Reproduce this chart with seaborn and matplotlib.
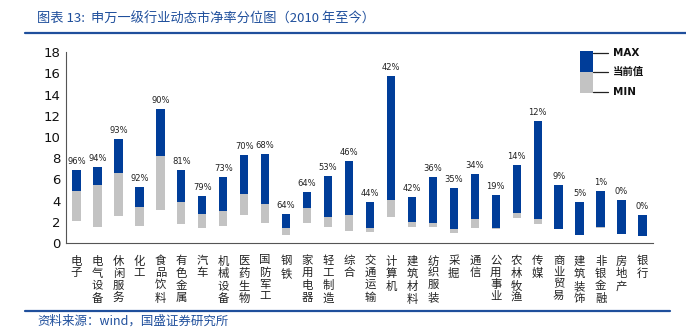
import matplotlib
matplotlib.use("Agg")
import matplotlib.pyplot as plt
import seaborn as sns
import pandas as pd
import numpy as np
from matplotlib.patches import Rectangle
from matplotlib.lines import Line2D

industries = ["电子", "电气设备", "休闲服务", "化工", "食品饮料", "有色金属", "汽车",
              "机械设备", "医药生物", "国防军工", "钢铁", "家用电器", "轻工制造", "综合",
              "交通运输", "计算机", "建筑材料", "纺织服装", "采掘", "通信", "公用事业",
              "农林牧渔", "传媒", "商业贸易", "建筑装饰", "非银金融", "房地产", "银行"]
pb_max = [6.91, 7.19, 9.80, 5.25, 12.63, 6.91, 4.43, 6.19, 8.29, 8.39, 2.73, 4.78, 6.31, 7.73,
          3.90, 15.77, 4.34, 6.19, 5.15, 6.53, 4.52, 7.35, 11.47, 5.44, 3.83, 4.87, 4.05, 2.60]
pb_cur = [4.93, 5.47, 6.63, 3.42, 8.23, 3.90, 2.70, 3.02, 4.65, 3.64, 1.38, 3.27, 2.45, 2.67,
          1.45, 4.05, 2.01, 1.89, 1.35, 2.29, 1.41, 2.83, 2.23, 1.36, 0.80, 1.48, 0.88, 0.62]
pb_min = [2.04, 1.48, 2.51, 1.57, 3.08, 1.79, 1.38, 1.63, 2.64, 1.92, 0.72, 1.85, 1.48, 1.16,
          1.07, 2.42, 1.54, 1.54, 0.94, 1.38, 1.32, 2.32, 1.76, 1.30, 0.75, 1.45, 0.88, 0.62]
pct_labels = ["96%", "94%", "93%", "92%", "90%", "81%", "79%", "73%", "70%", "68%", "64%",
              "64%", "53%", "46%", "44%", "42%", "42%", "36%", "35%", "34%", "19%", "14%",
              "12%", "9%", "5%", "1%", "0%", "0%"]
yticks = [0, 2, 4, 6, 8, 10, 12, 14, 16, 18]

df = pd.DataFrame({"industry": industries, "max": pb_max, "cur": pb_cur, "min": pb_min})
df["upper"] = df["max"] - df["cur"]
df["lower"] = df["cur"] - df["min"]

sns.set_style("white")
plt.rcParams["font.family"] = ["Noto Sans CJK SC", "DejaVu Sans"]

BLUE = "#003D99"
GREY = "#C3C3C3"
TBLUE = "#1F4F9C"

fig = plt.figure(figsize=(6.86, 3.35), dpi=100)
ax = fig.add_axes([66 / 686, 1 - 243 / 335, (653 - 66) / 686, (243 - 52.3) / 335])

W = 0.40
sns.barplot(data=df, x="industry", y="lower", order=industries, color=GREY, width=W,
            errorbar=None, bottom=df["min"].values, linewidth=0, ax=ax, saturation=1)
sns.barplot(data=df, x="industry", y="upper", order=industries, color=BLUE, width=W,
            errorbar=None, bottom=df["cur"].values, linewidth=0, ax=ax, saturation=1)

for i, (lab, top) in enumerate(zip(pct_labels, pb_max)):
    ax.annotate(lab, xy=(i, top), xytext=(0, 3), textcoords="offset points",
                ha="center", va="bottom", fontsize=6, color="#222222",
                family=["DejaVu Sans"])

ax.set_xlim(-0.5, len(industries) - 0.5)
ax.set_ylim(0, 18)
ax.set_yticks(yticks)
ax.set_yticklabels([str(v) for v in yticks], family=["DejaVu Sans"], fontsize=9.5, color="#111111")
ax.set_xticks(range(len(industries)))
ax.set_xticklabels(["\n".join(name) for name in industries], fontsize=8.2, color="#222222",
                   linespacing=1.22, va="top")
ax.set_xticks(np.arange(0.5, len(industries), 1), minor=True)
ax.tick_params(axis="x", which="major", length=0, pad=9)
ax.tick_params(axis="x", which="minor", length=4, width=0.8, direction="out", color="#555555")
ax.tick_params(axis="y", which="major", length=4, width=0.8, direction="in", color="#555555", pad=4)
ax.set_xlabel("")
ax.set_ylabel("")
sns.despine(ax=ax, top=True, right=True)
for s in ["left", "bottom"]:
    ax.spines[s].set_color("#555555")
    ax.spines[s].set_linewidth(0.8)

# overlay in pixel coordinates for decorations
ov = fig.add_axes([0, 0, 1, 1], facecolor="none")
ov.set_xlim(0, 686)
ov.set_ylim(335, 0)
ov.axis("off")

ov.text(37, 19, "图表 13:  申万一级行业动态市净率分位图（2010 年至今）", fontsize=9.5,
        color=TBLUE, style="italic", va="center", ha="left",
        family=["Noto Sans CJK SC", "DejaVu Sans"])
ov.add_line(Line2D([25, 686], [32.5, 32.5], color=TBLUE, lw=1.6))
ov.add_line(Line2D([25, 670], [310.5, 310.5], color=TBLUE, lw=1.6))
ov.text(37, 321, "资料来源：wind，国盛证券研究所", fontsize=9, color=TBLUE, style="italic",
        va="center", ha="left", family=["Noto Sans CJK SC", "DejaVu Sans"])

# legend
ov.add_patch(Rectangle((580, 51), 13, 21, facecolor=BLUE, edgecolor="none"))
ov.add_patch(Rectangle((580, 72), 13, 21, facecolor=GREY, edgecolor="none"))
for yy, lab in [(52.7, "MAX"), (71.7, "当前值"), (92.3, "MIN")]:
    ov.add_line(Line2D([593, 608], [yy, yy], color="#222222", lw=0.9))
    ov.text(613, yy, lab, fontsize=7.5, fontweight="bold", color="#111111", va="center",
            ha="left", family=["DejaVu Sans", "Noto Sans CJK SC"] if lab != "当前值" else ["Noto Sans CJK SC"])

fig.savefig("out.png", dpi=100)
